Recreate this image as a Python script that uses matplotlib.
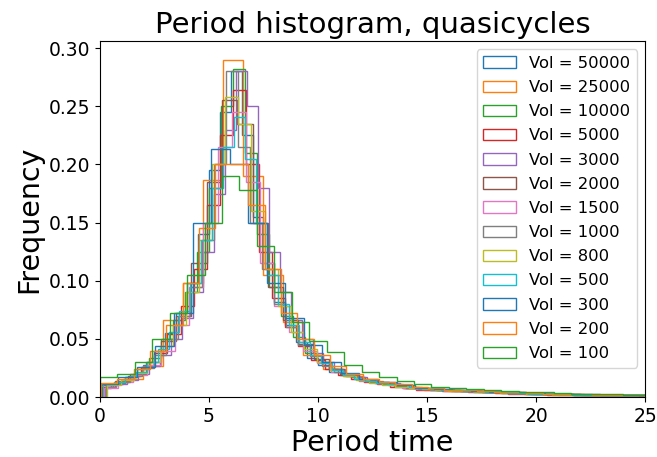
import numpy as np
import matplotlib
matplotlib.use('Agg')
import matplotlib.pyplot as plt

volumes = [50000, 25000, 10000, 5000, 3000, 2000, 1500, 1000, 800, 500, 300, 200, 100]

# bin width and first edge of each histogram
bin_width = [0.5, 0.92, 0.55, 0.6, 0.5, 0.7, 0.65, 0.55, 0.6, 0.5, 0.85, 0.75, 0.8]
bin_start = [0.0, 0.12, 0.05, 0.1, 0.25, 0.0, 0.2, 0.3, 0.35, 0.15, 0.0, 0.05, 0.0]

freq_50000 = [0.008, 0.011, 0.015, 0.020, 0.028, 0.040, 0.055, 0.072, 0.098, 0.140, 0.195, 0.245, 0.280,
              0.225, 0.155, 0.115, 0.082, 0.062, 0.047, 0.034, 0.028, 0.022, 0.019, 0.017, 0.015, 0.013,
              0.012, 0.010, 0.009, 0.008, 0.007, 0.0065, 0.006, 0.0055, 0.005, 0.0048, 0.0045, 0.004,
              0.0036, 0.0033, 0.003, 0.0027, 0.0025, 0.0023, 0.0021, 0.002, 0.0019, 0.0018, 0.0017, 0.0016]
freq_25000 = [0.011, 0.016, 0.027, 0.066, 0.098, 0.187, 0.290, 0.190, 0.105, 0.065, 0.036, 0.024, 0.018,
              0.014, 0.011, 0.008, 0.0065, 0.006, 0.005, 0.0045, 0.004, 0.003, 0.0028, 0.0025, 0.0022,
              0.002, 0.002, 0.0018]
freq_10000 = [0.009, 0.012, 0.017, 0.024, 0.034, 0.050, 0.066, 0.090, 0.125, 0.180, 0.250, 0.282, 0.210,
              0.140, 0.095, 0.070, 0.052, 0.038, 0.030, 0.024, 0.020, 0.017, 0.015, 0.013, 0.011, 0.010,
              0.008, 0.007, 0.0065, 0.006, 0.0055, 0.005, 0.0048, 0.0045, 0.004, 0.0035, 0.003, 0.0028,
              0.0025, 0.0023, 0.0021, 0.002, 0.0019, 0.0018, 0.0017, 0.0016]
freq_5000 = [0.009, 0.013, 0.018, 0.026, 0.038, 0.054, 0.078, 0.110, 0.165, 0.225, 0.264, 0.200, 0.125,
             0.085, 0.060, 0.044, 0.032, 0.024, 0.019, 0.016, 0.013, 0.011, 0.009, 0.008, 0.0065, 0.006,
             0.0055, 0.005, 0.0045, 0.004, 0.0035, 0.003, 0.0028, 0.0025, 0.0022, 0.002, 0.0019, 0.0018,
             0.0017, 0.0016, 0.0015, 0.0014]
freq_3000 = [0.009, 0.011, 0.015, 0.020, 0.027, 0.036, 0.050, 0.068, 0.090, 0.125, 0.175, 0.230, 0.280,
             0.250, 0.180, 0.125, 0.090, 0.066, 0.050, 0.038, 0.030, 0.024, 0.020, 0.017, 0.015, 0.013,
             0.012, 0.010, 0.009, 0.008, 0.0072, 0.0066, 0.006, 0.0055, 0.005, 0.0046, 0.0042, 0.0038,
             0.0034, 0.003, 0.0028, 0.0026, 0.0024, 0.0022, 0.002, 0.0019, 0.0018, 0.0017, 0.0016, 0.0015]
freq_2000 = [0.010, 0.014, 0.020, 0.030, 0.048, 0.070, 0.115, 0.185, 0.255, 0.235, 0.150, 0.095, 0.066,
             0.046, 0.033, 0.024, 0.019, 0.015, 0.012, 0.010, 0.008, 0.007, 0.0062, 0.0056, 0.005, 0.0045,
             0.004, 0.0036, 0.0032, 0.0028, 0.0025, 0.0022, 0.002, 0.0019, 0.0018, 0.0017]
freq_1500 = [0.008, 0.013, 0.019, 0.028, 0.040, 0.062, 0.095, 0.150, 0.215, 0.245, 0.185, 0.115, 0.078,
             0.056, 0.040, 0.029, 0.022, 0.018, 0.014, 0.012, 0.010, 0.008, 0.007, 0.0062, 0.0056, 0.005,
             0.0045, 0.004, 0.0036, 0.0032, 0.0028, 0.0025, 0.0022, 0.002, 0.0019, 0.0018, 0.0017,
             0.0016, 0.0015]
freq_1000 = [0.010, 0.013, 0.018, 0.025, 0.036, 0.050, 0.070, 0.095, 0.135, 0.200, 0.280, 0.215, 0.150,
             0.110, 0.080, 0.060, 0.045, 0.035, 0.027, 0.022, 0.018, 0.015, 0.013, 0.011, 0.0095, 0.0082,
             0.0072, 0.0065, 0.006, 0.0055, 0.005, 0.0046, 0.0042, 0.0038, 0.0034, 0.003, 0.0027, 0.0025,
             0.0023, 0.0021, 0.002, 0.0019, 0.0018, 0.0017, 0.0016]
freq_800 = [0.010, 0.015, 0.021, 0.030, 0.044, 0.062, 0.090, 0.135, 0.200, 0.258, 0.235, 0.160, 0.110,
            0.078, 0.056, 0.041, 0.030, 0.023, 0.018, 0.015, 0.012, 0.010, 0.0088, 0.0075, 0.0066, 0.006,
            0.0055, 0.005, 0.0045, 0.004, 0.0036, 0.0032, 0.0028, 0.0025, 0.0022, 0.002, 0.0019, 0.0018,
            0.0017, 0.0016, 0.0015]
freq_500 = [0.011, 0.013, 0.017, 0.022, 0.030, 0.041, 0.056, 0.074, 0.098, 0.135, 0.180, 0.215, 0.241,
            0.205, 0.150, 0.105, 0.080, 0.062, 0.047, 0.036, 0.029, 0.023, 0.019, 0.016, 0.014, 0.012,
            0.011, 0.010, 0.009, 0.008, 0.007, 0.0065, 0.006, 0.0055, 0.005, 0.0046, 0.0042, 0.0038,
            0.0034, 0.003, 0.0028, 0.0026, 0.0024, 0.0022, 0.002, 0.0019, 0.0018, 0.0017, 0.0016, 0.0015]
freq_300 = [0.011, 0.017, 0.026, 0.044, 0.072, 0.150, 0.213, 0.200, 0.150, 0.098, 0.068, 0.045, 0.030,
            0.021, 0.016, 0.013, 0.010, 0.008, 0.0068, 0.006, 0.0052, 0.0045, 0.004, 0.0034, 0.003,
            0.0026, 0.0023, 0.002, 0.0019, 0.0018]
freq_200 = [0.012, 0.016, 0.024, 0.040, 0.062, 0.098, 0.145, 0.200, 0.200, 0.165, 0.110, 0.072, 0.050,
            0.036, 0.027, 0.020, 0.016, 0.013, 0.011, 0.009, 0.0075, 0.0065, 0.0058, 0.005, 0.0045,
            0.004, 0.0035, 0.003, 0.0027, 0.0024, 0.0022, 0.002, 0.0019, 0.0018]
freq_100 = [0.017, 0.020, 0.030, 0.050, 0.072, 0.105, 0.150, 0.190, 0.178, 0.130, 0.090, 0.065, 0.048,
            0.039, 0.028, 0.022, 0.017, 0.014, 0.011, 0.009, 0.0078, 0.0068, 0.006, 0.0052, 0.0046,
            0.004, 0.0035, 0.003, 0.0027, 0.0024, 0.0022, 0.002]

frequencies = [freq_50000, freq_25000, freq_10000, freq_5000, freq_3000, freq_2000, freq_1500,
               freq_1000, freq_800, freq_500, freq_300, freq_200, freq_100]

fig = plt.figure(figsize=(6.57, 4.57), dpi=100)
ax = fig.add_axes([0.152, 0.131, 0.830, 0.779])

for vol, w, s, f in zip(volumes, bin_width, bin_start, frequencies):
    edges = s + w * np.arange(len(f) + 1)
    ax.hist(edges[:-1], bins=edges, weights=f, histtype='step', label='Vol = %d' % vol)

ax.set_xlim(0, 25)
ax.set_ylim(0, 0.306)
ax.set_title('Period histogram, quasicycles', fontsize=21)
ax.set_xlabel('Period time', fontsize=20.5, labelpad=2)
ax.set_ylabel('Frequency', fontsize=20.5)
ax.tick_params(labelsize=13.5)
ax.legend(loc='upper right', fontsize=11.8, labelspacing=0.56)

fig.savefig('out.png', dpi=100)
